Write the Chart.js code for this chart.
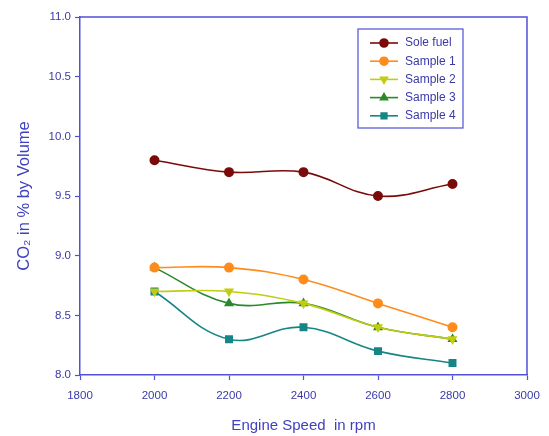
<!DOCTYPE html>
<html>
<head>
<meta charset="utf-8">
<script src="https://cdn.jsdelivr.net/npm/chart.js@4"></script>
<style>
  html, body { margin: 0; padding: 0; background: #fff; }
  #wrap { width: 549px; height: 436px; }
</style>
</head>
<body>
<div id="wrap"><canvas id="chart"></canvas></div>
<script>
const speeds = [2000, 2200, 2400, 2600, 2800];
const soleFuel = [9.8, 9.7, 9.7, 9.5, 9.6];
const sample1 = [8.9, 8.9, 8.8, 8.6, 8.4];
const sample2 = [8.7, 8.7, 8.6, 8.4, 8.3];
const sample3 = [8.9, 8.6, 8.6, 8.4, 8.3];
const sample4 = [8.7, 8.3, 8.4, 8.2, 8.1];

const axisBlue = "#5050d8";
const textBlue = "#3a3aa6";
const fontFamily = "'Liberation Sans', Arial, sans-serif";

function series(label, values, color, style, rotation) {
  return {
    label: label,
    data: speeds.map((s, i) => ({ x: s, y: values[i] })),
    borderColor: color,
    backgroundColor: color,
    borderWidth: 1.6,
    pointStyle: style,
    pointRotation: rotation || 0,
    pointRadius: style === "rect" ? 4.5 : 4.2,
    tension: 0.4,
  };
}

// legend box drawn inside the plot, upper right
const innerLegend = {
  id: "innerLegend",
  afterDraw(chart) {
    const ctx = chart.ctx;
    const a = chart.chartArea;
    ctx.save();
    // frame on top and right
    ctx.strokeStyle = axisBlue;
    ctx.lineWidth = 1.5;
    ctx.beginPath();
    ctx.moveTo(a.left, a.top);
    ctx.lineTo(a.right, a.top);
    ctx.lineTo(a.right, a.bottom);
    ctx.stroke();

    const x0 = 358, y0 = 29, w = 105, h = 99;
    ctx.fillStyle = "#fff";
    ctx.fillRect(x0, y0, w, h);
    ctx.strokeStyle = axisBlue;
    ctx.lineWidth = 1.2;
    ctx.strokeRect(x0, y0, w, h);
    ctx.font = "12px " + fontFamily;
    ctx.textBaseline = "middle";
    chart.data.datasets.forEach((ds, i) => {
      const y = y0 + 14 + i * 18.2;
      ctx.strokeStyle = ds.borderColor;
      ctx.lineWidth = 1.6;
      ctx.beginPath();
      ctx.moveTo(x0 + 12, y);
      ctx.lineTo(x0 + 40, y);
      ctx.stroke();
      Chart.helpers.drawPoint(ctx, {
        pointStyle: ds.pointStyle,
        rotation: ds.pointRotation,
        radius: 4,
        borderWidth: 1,
      }, x0 + 26, y);
      ctx.fillStyle = ds.borderColor;
      ctx.fill();
      ctx.fillStyle = textBlue;
      ctx.fillText(ds.label, x0 + 47, y);
    });
    ctx.restore();
  }
};

new Chart(document.getElementById("chart"), {
  type: "line",
  data: {
    datasets: [
      series("Sole fuel", soleFuel, "#7a0a0a", "circle"),
      series("Sample 1", sample1, "#ff8c1a", "circle"),
      series("Sample 2", sample2, "#c2cc10", "triangle", 180),
      series("Sample 3", sample3, "#2a8a2a", "triangle"),
      series("Sample 4", sample4, "#168585", "rect"),
    ],
  },
  options: {
    responsive: true,
    maintainAspectRatio: false,
    animation: false,
    layout: { padding: { top: 17, right: 22, left: 0, bottom: 0 } },
    plugins: {
      legend: { display: false },
      tooltip: { enabled: false },
    },
    scales: {
      x: {
        type: "linear",
        min: 1800,
        max: 3000,
        afterFit: (s) => { s.height = 61; },
        ticks: {
          stepSize: 200,
          color: textBlue,
          padding: 9,
          callback: (v) => String(v),
          font: { size: 11.5, family: fontFamily },
        },
        grid: { drawOnChartArea: false, color: axisBlue, tickLength: 5, tickWidth: 1.2 },
        border: { color: axisBlue, width: 1.5 },
        title: {
          display: true,
          text: "Engine Speed  in rpm",
          color: "#4040c0",
          font: { size: 15, family: fontFamily },
          padding: { top: 4, bottom: 1 },
        },
      },
      y: {
        min: 8,
        max: 11,
        afterFit: (s) => { s.width = 80; },
        ticks: {
          stepSize: 0.5,
          color: textBlue,
          padding: 4,
          callback: (v) => v.toFixed(1),
          font: { size: 11.5, family: fontFamily },
        },
        grid: { drawOnChartArea: false, color: axisBlue, tickLength: 5, tickWidth: 1.2 },
        border: { color: axisBlue, width: 1.5 },
        title: {
          display: true,
          text: "CO\u2082 in % by Volume",
          color: "#4040c0",
          font: { size: 16.5, family: fontFamily },
          padding: { top: 15, bottom: 4 },
        },
      },
    },
  },
  plugins: [innerLegend],
});
</script>
</body>
</html>
